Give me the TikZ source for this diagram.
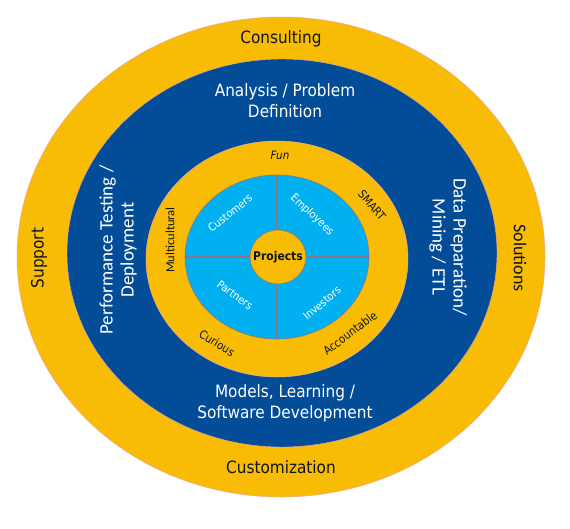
\documentclass[tikz,border=0pt]{standalone}
\usepackage{fontspec}
\setmainfont{DejaVu Sans Condensed}
\newfontfamily\calib{Carlito}
\definecolor{Ink}{HTML}{10141C}
\definecolor{Ring}{HTML}{F8BC04}
\definecolor{Deep}{HTML}{034D98}
\definecolor{Sky}{HTML}{00B0F0}
\definecolor{Seam}{HTML}{8F7484}
\definecolor{Rim}{HTML}{EBA9A9}
\tikzset{
  every node/.style={text=Ink, inner sep=1pt},
  ring/.style={fill=Ring, draw=Rim, line width=0.5pt},
  deep/.style={fill=Deep, draw=Rim, line width=0.4pt},
  sky/.style={fill=Sky, draw=Seam, line width=0.6pt},
  seam/.style={draw=Seam, line width=1.1pt},
  outerlbl/.style={font=\fontsize{17}{20}\selectfont},
  phaselbl/.style={text=white, align=center, font=\fontsize{17}{21}\selectfont},
  valuelbl/.style={font=\fontsize{11.5}{13}\selectfont},
  quadlbl/.style={text=white, font=\fontsize{11}{12}\selectfont},
}
\begin{document}
\begin{tikzpicture}[x=1pt,y=-1pt]
  \useasboundingbox (0,0) rectangle (570,528);

  % Rings, from the outside in.
  \path[ring] (281,257) ellipse [x radius=264, y radius=240];
  \path[deep] (282,253) ellipse [x radius=215, y radius=194];
  \path[ring] (277,259) ellipse [x radius=131, y radius=118];
  \path[sky]  (277,257) ellipse [x radius=92, y radius=82];

  % Quadrant seams and the hub.
  \coordinate (hub) at (278,257);
  \coordinate (skyN) at (277,175);
  \coordinate (skyS) at (277,339);
  \coordinate (skyW) at (185,257);
  \coordinate (skyE) at (369,257);
  \draw[seam] (skyN) -- (skyS);
  \draw[seam] (skyW) -- (skyE);
  \path[ring, draw=Seam, line width=0.6pt] (hub) ellipse [x radius=28, y radius=27];
  \node[font=\bfseries\fontsize{12}{14}\selectfont] (projects) at (hub) {Projects};

  % Outer ring: services.
  \node[outerlbl] (consult) at (281,39) {Consulting};
  \node[outerlbl] (custom) at (281,467) {Customization};
  \node[outerlbl, rotate=90] (support) at (39,258) {Support};
  \node[outerlbl, font=\calib\fontsize{18}{20}\selectfont, rotate=-90]
    (solutions) at (520,258) {Solutions};

  % Blue ring: project phases.
  \node[phaselbl] (analysis) at (285,101) {Analysis / Problem\\Definition};
  \node[phaselbl] (models) at (285,403) {Models, Learning /\\Software Development};
  \node[phaselbl, font=\calib\fontsize{19}{21}\selectfont, rotate=90]
    (perf) at (118,250) {Performance Testing /\\Deployment};
  \node[phaselbl, font=\calib\fontsize{19}{21}\selectfont, rotate=-90]
    (dataprep) at (448,247) {Data Preparation/\\Mining / ETL};

  % Inner ring: values.
  \node[valuelbl, font=\itshape\fontsize{11.5}{13}\selectfont] (fun) at (280,155) {Fun};
  \node[valuelbl, rotate=-50] (smart) at (372,205) {SMART};
  \node[valuelbl, font=\calib\fontsize{12.5}{14}\selectfont, rotate=90]
    (multi) at (170,240) {Multicultural};
  \node[valuelbl, rotate=-32] (curious) at (217,343) {Curious};
  \node[valuelbl, rotate=37] (account) at (350,333) {Accountable};

  % Stakeholder quadrants.
  \node[quadlbl, rotate=39] (customers) at (230,213) {Customers};
  \node[quadlbl, rotate=-43] (employees) at (312,215) {Employees};
  \node[quadlbl, rotate=-36] (partners) at (235,295) {Partners};
  \node[quadlbl, rotate=41] (investors) at (322,303) {Investors};
\end{tikzpicture}
\end{document}
